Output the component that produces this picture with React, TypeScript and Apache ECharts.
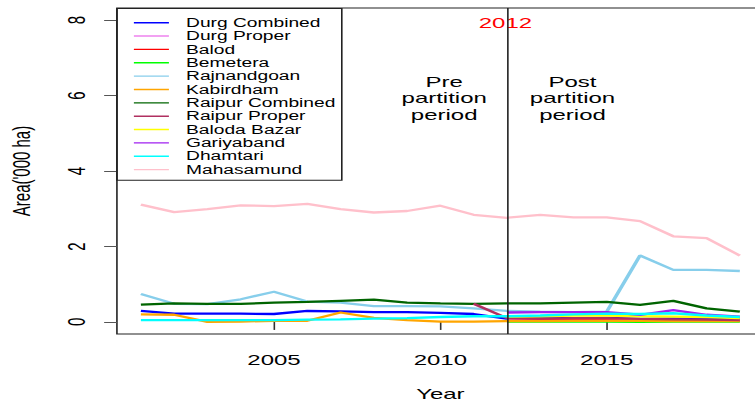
import React, { useEffect, useRef } from "react";
import * as echarts from "echarts";

// ---------------- data ----------------
const years = [2001, 2002, 2003, 2004, 2005, 2006, 2007, 2008, 2009, 2010, 2011, 2012, 2013, 2014, 2015, 2016, 2017, 2018, 2019];

const durgCombined = [0.29, 0.22, 0.22, 0.22, 0.21, 0.29, 0.28, 0.26, 0.26, 0.24, 0.21, 0.09, 0.10, 0.10, 0.11, 0.08, 0.09, 0.08, 0.07];
const durgProper = [null, null, null, null, null, null, null, null, null, null, null, 0.05, 0.05, 0.06, 0.06, 0.05, 0.05, 0.05, 0.04];
const balod = [null, null, null, null, null, null, null, null, null, null, null, 0.03, 0.04, 0.04, 0.04, 0.03, 0.03, 0.03, 0.03];
const bemetera = [null, null, null, null, null, null, null, null, null, null, null, 0.01, 0.01, 0.01, 0.01, 0.0, 0.01, 0.01, 0.01];
const rajnandgoan = [0.74, 0.48, 0.47, 0.6, 0.8, 0.54, 0.51, 0.42, 0.42, 0.41, 0.36, 0.29, 0.27, 0.26, 0.27, 1.76, 1.38, 1.38, 1.35];
const kabirdham = [0.2, 0.19, 0.0, 0.01, 0.03, 0.03, 0.25, 0.11, 0.05, 0.01, 0.01, 0.02, 0.02, 0.03, 0.03, 0.03, 0.02, 0.02, 0.02];
const raipurCombined = [0.46, 0.49, 0.48, 0.48, 0.51, 0.53, 0.56, 0.59, 0.51, 0.49, 0.48, 0.49, 0.49, 0.51, 0.53, 0.45, 0.56, 0.36, 0.27];
const raipurProper = [null, null, null, null, null, null, null, null, null, null, 0.48, 0.1, 0.09, 0.1, 0.1, 0.08, 0.07, 0.06, 0.05];
const balodaBazar = [null, null, null, null, null, null, null, null, null, null, null, 0.14, 0.15, 0.17, 0.17, 0.15, 0.14, 0.13, 0.1];
const gariyaband = [null, null, null, null, null, null, null, null, null, null, null, 0.25, 0.26, 0.26, 0.26, 0.19, 0.31, 0.19, 0.14];
const dhamtari = [0.05, 0.05, 0.05, 0.05, 0.05, 0.06, 0.07, 0.09, 0.1, 0.13, 0.15, 0.15, 0.17, 0.2, 0.22, 0.21, 0.23, 0.17, 0.13];
const mahasamund = [3.11, 2.91, 2.99, 3.09, 3.07, 3.13, 2.99, 2.9, 2.94, 3.08, 2.84, 2.76, 2.84, 2.77, 2.77, 2.67, 2.27, 2.22, 1.76];

const seriesNames = [
  "Durg Combined", "Durg Proper", "Balod", "Bemetera", "Rajnandgoan", "Kabirdham",
  "Raipur Combined", "Raipur Proper", "Baloda Bazar", "Gariyaband", "Dhamtari", "Mahasamund",
];
const seriesValues = [
  durgCombined, durgProper, balod, bemetera, rajnandgoan, kabirdham,
  raipurCombined, raipurProper, balodaBazar, gariyaband, dhamtari, mahasamund,
];
const seriesColors = [
  "#0000FF", "#EE82EE", "#FF0000", "#00FF00", "#87CEEB", "#FFA500",
  "#006400", "#B03060", "#FFFF00", "#A020F0", "#00FFFF", "#FFC0CB",
];

const xTicks = [2005, 2010, 2015];
const yTicks = [0, 2, 4, 6, 8];
const partitionYear = 2012;

// ---------------- layout ----------------
const W = 472;
const H = 404;
const S = 755 / W;
const FONT = "'Liberation Sans', Arial, Helvetica, sans-serif";

export default function App() {
  const ref = useRef<HTMLDivElement>(null);

  useEffect(() => {
    if (!ref.current) return;
    const chart = echarts.init(ref.current, null, { renderer: "svg" });

    const series = seriesNames.map((name, i) => {
      const data = years
        .map((yr, j) => [yr, seriesValues[i][j]])
        .filter((p) => p[1] !== null && p[1] !== undefined);
      const s: any = {
        name,
        type: "line",
        data,
        symbol: "none",
        showSymbol: false,
        lineStyle: { color: seriesColors[i], width: 2.3 },
        itemStyle: { color: seriesColors[i] },
        emphasis: { disabled: true },
      };
      if (i === 0) {
        s.markLine = {
          silent: true,
          symbol: ["none", "none"],
          label: { show: false },
          lineStyle: { color: "#222", width: 1, type: "solid" },
          data: [{ xAxis: partitionYear }],
        };
      }
      return s;
    });

    chart.setOption({
      animation: false,
      textStyle: { fontFamily: FONT },
      grid: {
        left: 73.1,
        top: 8,
        width: 404.4,
        height: 326,
        show: true,
        borderColor: "#222",
        borderWidth: 1,
        backgroundColor: "transparent",
        containLabel: false,
        outerBoundsMode: "none",
      },
      xAxis: {
        type: "value",
        min: 2000.28,
        max: 2019.72,
        name: "Year",
        nameLocation: "middle",
        nameGap: 52,
        nameTextStyle: { fontSize: 15, color: "#000", fontFamily: FONT },
        axisLine: { show: false },
        splitLine: { show: false },
        axisTick: { show: true, length: 8, customValues: xTicks, lineStyle: { color: "#333", width: 1 } },
        axisLabel: {
          customValues: xTicks,
          margin: 18,
          fontSize: 15,
          color: "#000",
          fontFamily: FONT,
          formatter: (v: number) => String(v),
        },
      },
      yAxis: {
        type: "value",
        min: -0.32,
        max: 8.32,
        name: "Area('000 ha)",
        nameLocation: "middle",
        nameRotate: 90,
        nameGap: 52,
        nameTextStyle: { fontSize: 15, color: "#000", fontFamily: FONT },
        axisLine: { show: false },
        splitLine: { show: false },
        axisTick: { show: true, length: 8, customValues: yTicks, lineStyle: { color: "#555", width: 1 } },
        axisLabel: {
          customValues: yTicks,
          rotate: 90,
          margin: 18,
          fontSize: 15,
          color: "#000",
          fontFamily: FONT,
          formatter: (v: number) => String(v),
        },
      },
      legend: {
        data: seriesNames,
        orient: "vertical",
        left: 73.1,
        top: 8.5,
        padding: [7.5, 4, 4, 10.6],
        itemWidth: 21.9,
        itemHeight: 13.36,
        itemGap: 0,
        icon: "path://M0,0H36V2.3H0Z",
        itemStyle: { borderWidth: 0 },
        borderColor: "#222",
        borderWidth: 1,
        borderRadius: 0,
        selectedMode: false,
        textStyle: {
          fontSize: 12,
          color: "#000",
          fontFamily: FONT,
          lineHeight: 13.36,
          padding: [0, 0, 0, 5.7],
        },
      },
      graphic: [
        {
          type: "text",
          x: 316,
          y: 22.3,
          silent: true,
          style: { text: "2012", fill: "#FF0000", fontSize: 15, fontFamily: FONT, align: "center", verticalAlign: "middle" },
        },
        {
          type: "text",
          x: 277.7,
          y: 98,
          silent: true,
          style: {
            text: "Pre\npartition\nperiod",
            fill: "#000",
            fontSize: 15,
            lineHeight: 16.6,
            fontFamily: FONT,
            align: "center",
            verticalAlign: "middle",
          },
        },
        {
          type: "text",
          x: 357.9,
          y: 98,
          silent: true,
          style: {
            text: "Post\npartition\nperiod",
            fill: "#000",
            fontSize: 15,
            lineHeight: 16.6,
            fontFamily: FONT,
            align: "center",
            verticalAlign: "middle",
          },
        },
      ],
      series,
    });

    return () => chart.dispose();
  }, []);

  return (
    <div style={{ position: "absolute", left: 0, top: 0, width: 755, height: H, overflow: "hidden", background: "#fff" }}>
      <div
        ref={ref}
        style={{ width: W, height: H, transform: `scaleX(${S})`, transformOrigin: "0 0" }}
      />
    </div>
  );
}
